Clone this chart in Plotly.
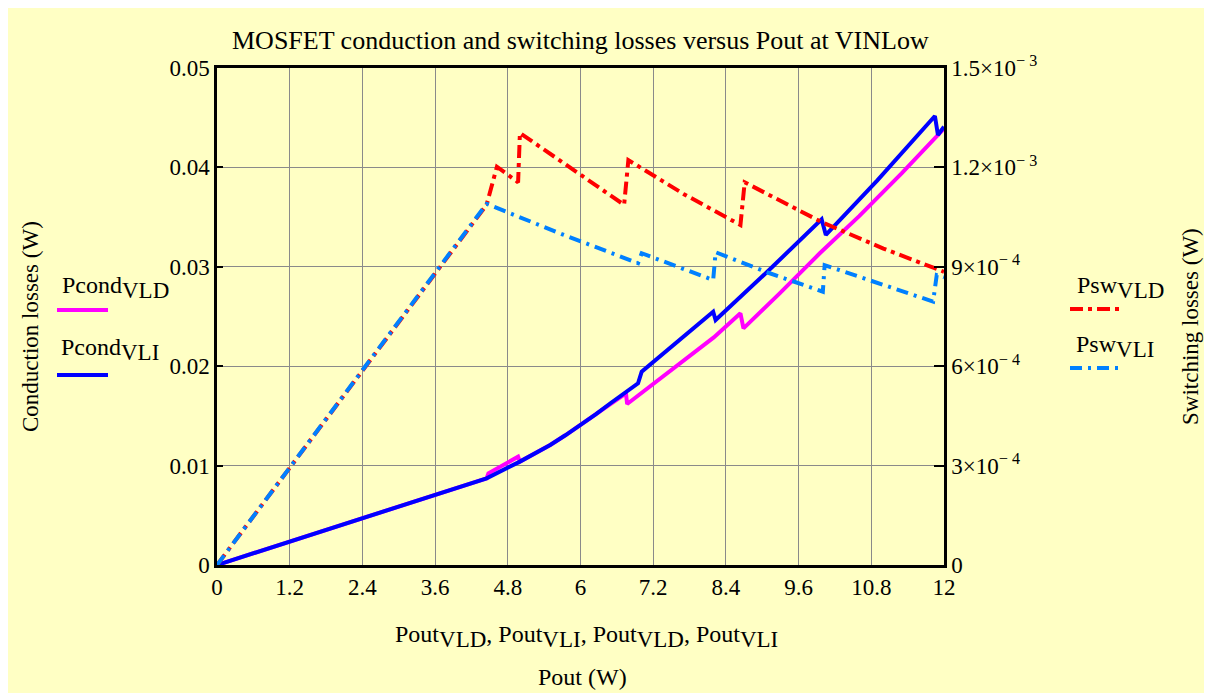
import plotly.graph_objects as go

# ---- data ----
pout_cond_vld = [0, 4.45, 4.48, 4.97, 5.0, 5.25, 5.5, 5.75, 6.0, 6.25, 6.5, 6.75, 6.77, 7.2, 7.7, 8.2, 8.64, 8.69, 9.3, 9.95, 10.6, 11.3, 12.0]
pcond_vld = [0, 0.00872, 0.00922, 0.0109, 0.0104, 0.0112, 0.01207, 0.01305, 0.01408, 0.01515, 0.0162, 0.01727, 0.0162, 0.0182, 0.0205, 0.0229, 0.02532, 0.02381, 0.0274, 0.03136, 0.0351, 0.0394, 0.0439]

pout_cond_vli = [0, 4.45, 5.0, 5.25, 5.5, 5.75, 6.0, 6.25, 6.5, 6.75, 6.95, 7.01, 7.6, 8.19, 8.23, 9.1, 9.98, 10.05, 10.9, 11.85, 11.9, 12.0]
pcond_vli = [0, 0.00872, 0.0104, 0.0112, 0.01207, 0.01305, 0.01408, 0.01515, 0.0163, 0.0174, 0.01828, 0.01945, 0.0224, 0.02548, 0.02465, 0.0296, 0.03478, 0.0332, 0.0387, 0.04517, 0.04326, 0.0441]

pout_sw_vld = [0, 4.45, 4.62, 4.97, 5.0, 5.9, 6.72, 6.79, 7.7, 8.64, 8.71, 9.98, 11.0, 12.0]
psw_vld = [0, 1.087e-3, 1.202e-3, 1.155e-3, 1.304e-3, 1.19e-3, 1.087e-3, 1.222e-3, 1.12e-3, 1.026e-3, 1.155e-3, 1.035e-3, 0.955e-3, 0.885e-3]

pout_sw_vli = [0, 4.45, 5.7, 6.95, 7.01, 8.19, 8.23, 9.1, 10.0, 10.03, 11.82, 11.88, 12.0]
psw_vli = [0, 1.09e-3, 0.998e-3, 0.911e-3, 0.941e-3, 0.860e-3, 0.944e-3, 0.882e-3, 0.825e-3, 0.905e-3, 0.795e-3, 0.875e-3, 0.868e-3]

x_ticks = [0, 1.2, 2.4, 3.6, 4.8, 6, 7.2, 8.4, 9.6, 10.8, 12]
x_ticktext = ["0", "1.2", "2.4", "3.6", "4.8", "6", "7.2", "8.4", "9.6", "10.8", "12"]
y_ticks = [0, 0.01, 0.02, 0.03, 0.04, 0.05]
y_ticktext = ["0", "0.01", "0.02", "0.03", "0.04", "0.05"]
y2_ticks = [0, 3e-4, 6e-4, 9e-4, 1.2e-3, 1.5e-3]
y2_ticktext = ["0", "3×10<sup>− 4</sup>", "6×10<sup>− 4</sup>", "9×10<sup>− 4</sup>",
               "1.2×10<sup>− 3</sup>", "1.5×10<sup>− 3</sup>"]

# ---- layout geometry (reference-screenshot pixels; page body adds an 8px offset) ----
OFF = 8
W, H = 1212 - OFF, 693 - OFF
L, R, T, B = 217, 944, 68, 565
FONT = "Liberation Serif"
BG = "#FFFFC4"
DASH_RED = "13px,5px,4px,5px"
DASH_BLUE = "12px,6px,3px,6px"


def px(x):
    return (x - L) / (R - L)


def py(y):
    return (B - y) / (B - T)


fig = go.Figure()
fig.add_trace(go.Scatter(x=pout_cond_vld, y=pcond_vld, mode="lines",
                         line=dict(color="#FF00FF", width=4), yaxis="y", showlegend=False))
fig.add_trace(go.Scatter(x=pout_cond_vli, y=pcond_vli, mode="lines",
                         line=dict(color="#0000FF", width=4), yaxis="y", showlegend=False))
fig.add_trace(go.Scatter(x=pout_sw_vld, y=psw_vld, mode="lines",
                         line=dict(color="#FF0000", width=4, dash=DASH_RED), yaxis="y2", showlegend=False))
fig.add_trace(go.Scatter(x=pout_sw_vli, y=psw_vli, mode="lines",
                         line=dict(color="#0080FF", width=4, dash=DASH_BLUE), yaxis="y2", showlegend=False))

tickfont = dict(family=FONT, size=23, color="black")
fig.update_layout(
    width=W, height=H,
    margin=dict(l=L - OFF, r=W - (R - OFF), t=T - OFF, b=H - (B - OFF), pad=0),
    paper_bgcolor=BG, plot_bgcolor=BG,
    font=dict(family=FONT, color="black"),
    xaxis=dict(range=[0, 12], tickvals=x_ticks, ticktext=x_ticktext, tickfont=tickfont,
               showgrid=True, gridcolor="#8a8a8a", gridwidth=1, zeroline=False,
               showline=True, linecolor="black", linewidth=2.5, mirror=True, ticks=""),
    yaxis=dict(range=[0, 0.05], tickvals=y_ticks, ticktext=y_ticktext, tickfont=tickfont,
               showgrid=True, gridcolor="#8a8a8a", gridwidth=1, zeroline=False,
               showline=True, linecolor="black", linewidth=2.5, mirror=True,
               ticks="inside", ticklen=6, tickcolor="black", tickwidth=2),
    yaxis2=dict(range=[0, 1.5e-3], tickvals=y2_ticks, ticktext=y2_ticktext, tickfont=tickfont,
                overlaying="y", side="right", showgrid=False, zeroline=False,
                showline=True, linecolor="black", linewidth=2.5,
                ticks="inside", ticklen=10, tickcolor="black", tickwidth=2),
)

ann = []
ann.append(dict(text="MOSFET conduction and switching losses versus Pout at VINLow",
                x=px(580), y=py(40), font=dict(size=26)))
ann.append(dict(text="Conduction losses (W)", x=px(30), y=py(327), textangle=-90, font=dict(size=23)))
ann.append(dict(text="Switching losses (W)", x=px(1190), y=py(327), textangle=-90, font=dict(size=23)))
sub = "<sub><span style='font-size:23px'>%s</span></sub>"
ann.append(dict(text="Pout" + sub % "VLD" + ", Pout" + sub % "VLI" + ", Pout" + sub % "VLD" + ", Pout" + sub % "VLI",
                x=px(586), y=py(636), font=dict(size=24)))
ann.append(dict(text="Pout (W)", x=px(582), y=py(677), font=dict(size=24)))
ann.append(dict(text="Pcond" + sub % "VLD", x=px(115), y=py(287), font=dict(size=24)))
ann.append(dict(text="Pcond" + sub % "VLI", x=px(110), y=py(350), font=dict(size=24)))
ann.append(dict(text="Psw" + sub % "VLD", x=px(1120), y=py(287), font=dict(size=24)))
ann.append(dict(text="Psw" + sub % "VLI", x=px(1115), y=py(346), font=dict(size=24)))
for a in ann:
    a.update(xref="paper", yref="paper", showarrow=False, xanchor="center", yanchor="middle")
    a["font"].update(family=FONT, color="black")
fig.update_layout(annotations=ann)

shapes = []
for (x0, x1, y, color, dash) in [(57, 108, 310, "#FF00FF", "solid"), (57, 108, 375, "#0000FF", "solid"),
                                 (1070, 1122, 309, "#FF0000", DASH_RED), (1070, 1122, 368, "#0080FF", DASH_BLUE)]:
    shapes.append(dict(type="line", xref="paper", yref="paper", x0=px(x0), x1=px(x1), y0=py(y), y1=py(y),
                       line=dict(color=color, width=4, dash=dash)))
fig.update_layout(shapes=shapes)

fig.write_html("out.html")
